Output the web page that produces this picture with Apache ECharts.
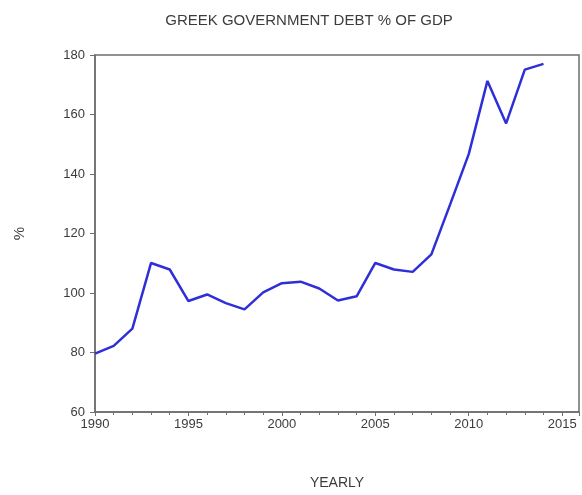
<!DOCTYPE html>
<html>
<head>
<meta charset="utf-8">
<script src="https://cdn.jsdelivr.net/npm/echarts@6/dist/echarts.min.js"></script>
<style>
  html, body { margin: 0; padding: 0; background: #fff; }
  #chart { width: 582px; height: 495px; }
</style>
</head>
<body>
<div id="chart"></div>
<script>
// Data
var years = [1990, 1991, 1992, 1993, 1994, 1995, 1996, 1997, 1998, 1999,
             2000, 2001, 2002, 2003, 2004, 2005, 2006, 2007, 2008, 2009,
             2010, 2011, 2012, 2013, 2014];
var debt = [79.6, 82.2, 88.0, 110.1, 107.9, 97.3, 99.5, 96.6, 94.5, 100.2,
            103.3, 103.8, 101.5, 97.5, 98.9, 110.1, 107.9, 107.1, 113.0, 129.7,
            146.7, 171.3, 157.0, 175.1, 177.0];

var chartTitle = 'GREEK GOVERNMENT DEBT % OF GDP';
var xName = 'YEARLY';
var yName = '%';

var seriesData = years.map(function (y, i) { return [y, debt[i]]; });

var debt_element = document.getElementById('chart');

if (debt_element) {

    // Initialize chart
    var debt_chart = echarts.init(debt_element);

    var axisGrey = '#6e6e6e';
    var textGrey = '#3c3c3c';

    debt_chart.setOption({
        animation: false,

        textStyle: {
            fontFamily: 'Liberation Sans, Arial, sans-serif'
        },

        title: {
            text: chartTitle,
            left: 304,
            textAlign: 'center',
            top: 8,
            textStyle: {
                fontSize: 15,
                fontWeight: 'normal',
                color: textGrey
            }
        },

        // Plot frame
        grid: {
            left: 95,
            right: 3,
            top: 55,
            bottom: 74,
            show: true,
            borderColor: axisGrey,
            borderWidth: 1.5
        },

        // Horizontal axis
        xAxis: {
            type: 'value',
            min: 1990,
            max: 2015.9,
            interval: 5,
            name: xName,
            nameLocation: 'middle',
            nameGap: 64,
            nameTextStyle: { fontSize: 14, color: textGrey },
            axisLine: { lineStyle: { color: axisGrey, width: 1.5 } },
            axisTick: { length: 4, lineStyle: { color: axisGrey } },
            minorTick: { show: true, splitNumber: 5, length: 3, lineStyle: { color: axisGrey } },
            axisLabel: {
                color: textGrey,
                fontSize: 13,
                margin: 6,
                showMaxLabel: false,
                formatter: function (v) { return String(v); }
            },
            splitLine: { show: false }
        },

        // Vertical axis
        yAxis: {
            type: 'value',
            min: 60,
            max: 180,
            interval: 20,
            name: yName,
            nameLocation: 'middle',
            nameRotate: 90,
            nameGap: 68,
            nameTextStyle: { fontSize: 15, color: textGrey },
            axisLine: { show: true, lineStyle: { color: axisGrey, width: 1.5 } },
            axisTick: { show: true, length: 5, lineStyle: { color: axisGrey } },
            axisLabel: { color: textGrey, fontSize: 13, margin: 10 },
            splitLine: { show: false }
        },

        series: [{
            type: 'line',
            data: seriesData,
            showSymbol: false,
            smooth: false,
            lineStyle: { color: '#2f2fd8', width: 2.5 },
            itemStyle: { color: '#2f2fd8' }
        }]
    });
}
</script>
</body>
</html>
